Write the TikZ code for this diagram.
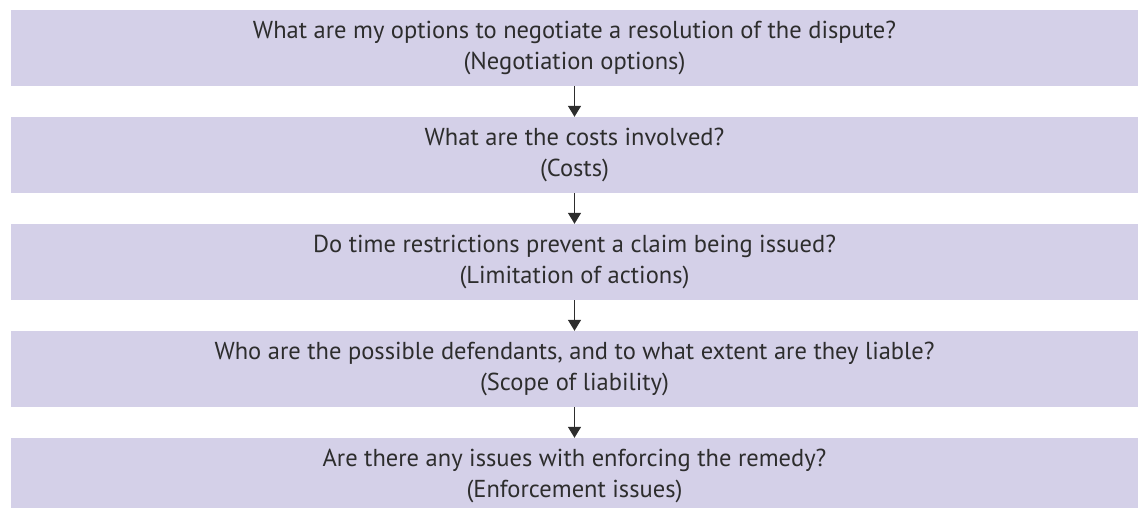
\documentclass[tikz,border=0pt]{standalone}
\usepackage{fontspec}
\setmainfont{PT Sans}
\usetikzlibrary{arrows.meta}
\definecolor{boxfill}{RGB}{212,208,232}
\definecolor{txt}{RGB}{45,45,45}
\begin{document}
\begin{tikzpicture}[x=1pt,y=-1pt,
  qbox/.style={fill=boxfill,draw=none,minimum width=1127pt,minimum height=76pt,
    inner sep=0pt,align=center,text=txt,font=\fontsize{24.5}{31}\selectfont},
  flow/.style={draw=txt,line width=1.4pt,-{Triangle[length=11pt,width=13pt]}}]
\useasboundingbox (0,0) rectangle (1138,507);
\node[qbox] (b1) at (574.5,48) {What are my options to negotiate a resolution of the dispute?\\(Negotiation options)};
\node[qbox] (b2) at (574.5,155) {What are the costs involved?\\(Costs)};
\node[qbox] (b3) at (574.5,262) {Do time restrictions prevent a claim being issued?\\(Limitation of actions)};
\node[qbox] (b4) at (574.5,369) {Who are the possible defendants, and to what extent are they liable?\\(Scope of liability)};
\node[qbox] (b5) at (574.5,476) {Are there any issues with enforcing the remedy?\\(Enforcement issues)};
\draw[flow] (b1) -- (b2);
\draw[flow] (b2) -- (b3);
\draw[flow] (b3) -- (b4);
\draw[flow] (b4) -- (b5);
\end{tikzpicture}
\end{document}
